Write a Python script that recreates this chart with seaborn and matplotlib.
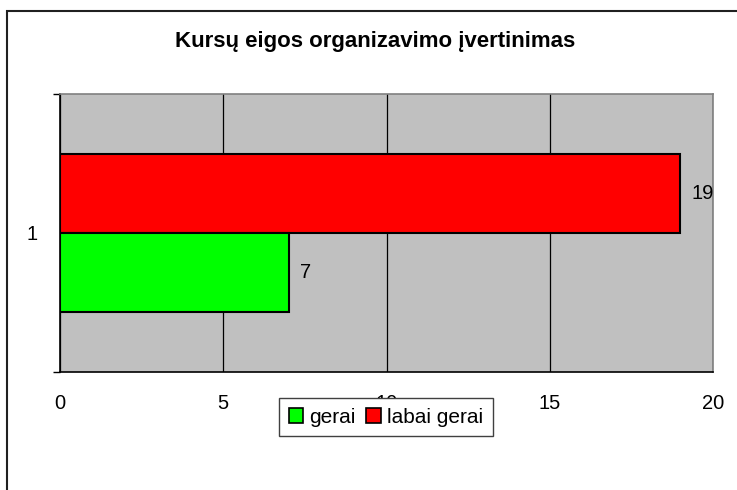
import pandas as pd
import matplotlib.pyplot as plt
import matplotlib.patches as mpatches
import seaborn as sns

# Daten
kategorija = ["1", "1"]
vertinimai = ["labai gerai", "gerai"]
reiksmes = [19, 7]
spalvos = {"gerai": "#00FF00", "labai gerai": "#FF0000"}

df = pd.DataFrame({"kat": kategorija, "vertinimas": vertinimai, "kiekis": reiksmes})

sns.set_theme(style="white")
plt.rcParams['font.family'] = ['Liberation Sans', 'DejaVu Sans']
plt.rcParams['text.color'] = 'black'
plt.rcParams['xtick.color'] = 'black'
plt.rcParams['ytick.color'] = 'black'

fig = plt.figure(figsize=(7.37, 4.9), dpi=100)
ax = fig.add_axes([60 / 737, 1 - 372 / 490, (713 - 60) / 737, (372 - 94) / 490])

sns.barplot(data=df, x="kiekis", y="kat", hue="vertinimas",
            hue_order=["labai gerai", "gerai"], palette=spalvos, saturation=1,
            orient="h", width=0.565, edgecolor="black", linewidth=1.5,
            legend=False, ax=ax)

ax.set_facecolor("#C0C0C0")
ax.set_xlim(0, 20)
ax.set_ylim(0.5, -0.5)
ax.set_xticks([0, 5, 10, 15, 20])
ax.xaxis.grid(True, color="black", linewidth=0.9)
ax.set_axisbelow(True)
ax.set_xlabel("")
ax.set_ylabel("")

# Ašys
for s in ["top", "right"]:
    ax.spines[s].set_color("#808080")
    ax.spines[s].set_linewidth(1.2)
for s in ["left", "bottom"]:
    ax.spines[s].set_color("black")
    ax.spines[s].set_linewidth(1.2)

ax.tick_params(axis="x", which="major", direction="out", length=5, width=1,
               color="black", labelsize=14.5, pad=11)
ax.set_yticks([0])
ax.set_yticklabels(["1"])
ax.set_yticks([-0.5, 0.5], minor=True)
ax.tick_params(axis="y", which="major", length=0, labelsize=14.5, pad=16)
ax.tick_params(axis="y", which="minor", direction="out", length=5, width=1, color="black", left=True)

# Reikšmės prie stulpelių
for c in ax.containers:
    ax.bar_label(c, fmt="%d", padding=8, fontsize=14.5, color="black")

fig.suptitle("Kursų eigos organizavimo įvertinimas", x=375 / 737, y=1 - 42 / 490,
             va="center", fontsize=16, fontweight="bold", color="black")

# Legenda
rankenos = [mpatches.Patch(facecolor=spalvos[v], edgecolor="black", linewidth=1.2, label=v)
            for v in ["gerai", "labai gerai"]]
fig.legend(handles=rankenos, loc="center", bbox_to_anchor=(386 / 737, 1 - 417 / 490),
           ncol=2, fontsize=15, frameon=True, fancybox=False, edgecolor="#404040",
           framealpha=1, facecolor="white", handlelength=0.7, handleheight=0.7,
           handletextpad=0.3, columnspacing=0.5, borderpad=0.45)

# Rėmelis aplink diagramą
fig.patches.append(mpatches.Rectangle((7 / 737, -0.1), 1.2, 1 - 11 / 490 + 0.1,
                                      transform=fig.transFigure, fill=False,
                                      edgecolor="#202020", linewidth=1.5))

plt.savefig("out.png", dpi=100)
